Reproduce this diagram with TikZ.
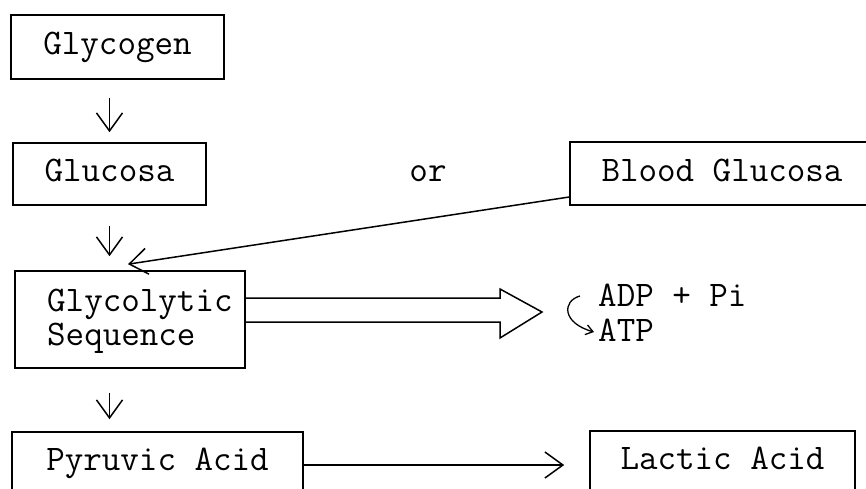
\documentclass[tikz,border=0pt]{standalone}
\usetikzlibrary{arrows.meta,calc}
\begin{document}
\begin{tikzpicture}[x=1pt,y=-1pt,
  txt/.style={inner sep=0pt,font=\fontsize{36}{29}\selectfont\ttfamily,text height=22pt,text depth=7pt},
  line/.style={txt,text height=20pt,text depth=6pt},
  multi/.style={inner sep=0pt,font=\fontsize{36}{34}\selectfont\ttfamily,align=left},
  box/.style={txt,draw,line width=1.6pt},
  arr/.style={line width=1.5pt,-{Straight Barb[length=18pt,width=26pt,line width=1.5pt]}},
  small/.style={line width=1.3pt,-{Straight Barb[length=7pt,width=10pt,line width=1.3pt]}},
]
\useasboundingbox (0,0) rectangle (866,489);
\clip (0,0) rectangle (866,489);
% boxes
\node[box,minimum width=213pt,minimum height=64pt] (glycogen) at (117.5,47) {Glycogen};
\node[box,minimum width=193pt,minimum height=62pt] (glucosa) at (109.5,174) {Glucosa};
\node[txt] (or) at (428,174) {or};
\node[box,minimum width=304pt,minimum height=63pt] (blood) at (722,173.5) {Blood Glucosa};
\node[draw,line width=1.6pt,minimum width=230pt,minimum height=97pt,inner sep=0pt] (glyco) at (130,319.5) {};
\node[multi,anchor=west] (glytext) at (47,321) {Glycolytic\\Sequence};
\node[box,minimum width=291pt,minimum height=62pt] (pyruvic) at (157.5,463) {Pyruvic Acid};
\node[box,minimum width=265pt,minimum height=62pt] (lactic) at (722.5,462) {Lactic Acid};
\node[line,anchor=base west] (adp) at (598,306) {ADP + Pi};
\node[line,anchor=base west] (atp) at (598,341) {ATP};
% vertical arrows
\draw[arr,shorten <=18pt,shorten >=10pt] (glycogen.south -| glucosa.north) -- (glucosa.north);
\draw[arr,shorten <=20pt,shorten >=14pt] (glucosa.south) -- (glucosa.south |- glyco.north);
\draw[arr,shorten <=24pt,shorten >=12pt] (glyco.south -| glucosa.south) -- (glucosa.south |- pyruvic.north);
% blood glucosa to glycolytic
\draw[arr] ($(blood.west)+(0,23.5)$) -- ($(glyco.north)+(-2,-6)$);
% pyruvic to lactic
\draw[arr,shorten >=25pt] ($(pyruvic.east)+(0,2)$) -- ($(pyruvic.east -| lactic.west)+(0,2)$);
% double arrow
\coordinate (dtip) at (542,312);
\draw[line width=1.5pt,line join=miter] ($(glyco.east)+(0,-21.5)$) -- (500,298) -- (500,289) -- (dtip) -- (500,338) -- (500,322) -- ($(glyco.east)+(0,2.5)$);
% ADP/ATP curved arrow
\draw[small] ($(adp.west)+(-18,-3)$) .. controls ($(adp.west)+(-36,2)$) and ($(adp.west)+(-36,24)$) .. ($(atp.west)+(-4,-2)$);
\end{tikzpicture}
\end{document}
